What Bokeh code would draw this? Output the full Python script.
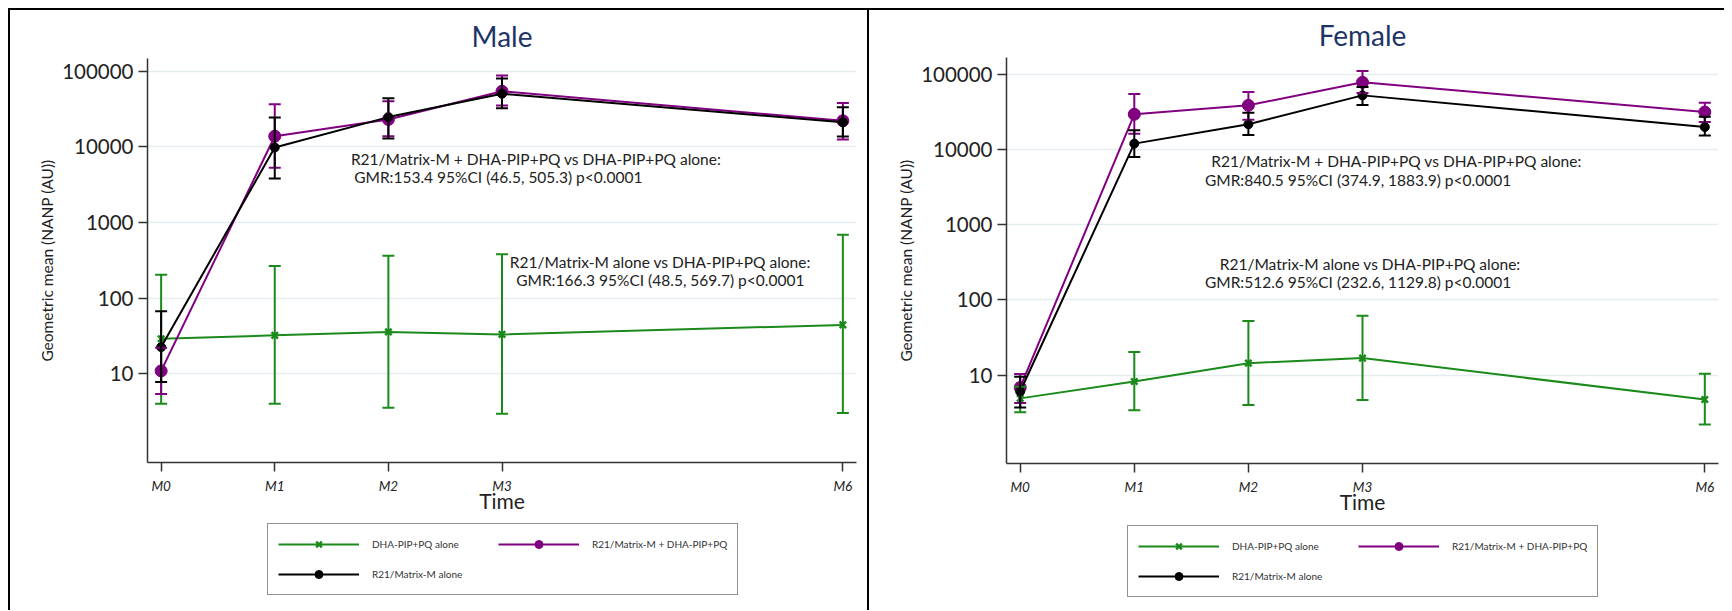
from bokeh.plotting import figure
from bokeh.layouts import row, column
from bokeh.models import (ColumnDataSource, Whisker, TeeHead, Legend, LegendItem,
                          FixedTicker, Range1d, Label, Title)
from bokeh.embed import file_html
from bokeh.resources import INLINE

# ---------------- data ----------------
months = [0, 1, 2, 3, 6]
month_labels = ["M0", "M1", "M2", "M3", "M6"]
y_ticks = [10, 100, 1000, 10000, 100000]
y_tick_labels = ["10", "100", "1000", "10000", "100000"]

series_names = ["DHA-PIP+PQ alone", "R21/Matrix-M + DHA-PIP+PQ", "R21/Matrix-M alone"]

# Male
male_dha_gm = [29.0, 32.2, 35.7, 33.1, 44.2]
male_dha_lo = [4.0, 4.0, 3.55, 2.96, 3.03]
male_dha_hi = [204, 266, 364, 380, 686]
male_combo_gm = [10.9, 13800, 23000, 54300, 22100]
male_combo_lo = [5.4, 5270, 13800, 35100, 12500]
male_combo_hi = [22, 36500, 40100, 87700, 37800]
male_r21_gm = [22.5, 9800, 24700, 50200, 21100]
male_r21_lo = [7.8, 3810, 12900, 32400, 13700]
male_r21_hi = [66.8, 24400, 44000, 80000, 33400]

# Female
female_dha_gm = [4.9, 8.2, 14.4, 16.8, 4.74]
female_dha_lo = [3.2, 3.4, 4.0, 4.66, 2.21]
female_dha_hi = [7.0, 20.2, 52.1, 61.4, 10.4]
female_combo_gm = [6.84, 29200, 38400, 77600, 31300]
female_combo_lo = [4.25, 16100, 24700, 56000, 23100]
female_combo_hi = [10.3, 54200, 57700, 109600, 41600]
female_r21_gm = [6.05, 11900, 21500, 52100, 19800]
female_r21_lo = [3.72, 7900, 15500, 38700, 15300]
female_r21_hi = [9.5, 17900, 30600, 67100, 27100]

male_notes = ["R21/Matrix-M + DHA-PIP+PQ vs DHA-PIP+PQ alone:",
              "GMR:153.4 95%CI (46.5, 505.3) p<0.0001",
              "R21/Matrix-M alone vs DHA-PIP+PQ alone:",
              "GMR:166.3 95%CI (48.5, 569.7) p<0.0001"]
female_notes = ["R21/Matrix-M + DHA-PIP+PQ vs DHA-PIP+PQ alone:",
                "GMR:840.5 95%CI (374.9, 1883.9) p<0.0001",
                "R21/Matrix-M alone vs DHA-PIP+PQ alone:",
                "GMR:512.6 95%CI (232.6, 1129.8) p<0.0001"]

# ---------------- style ----------------
FONT = "Lato"
GREEN = "#1a8a1a"
PURPLE = "#800080"
BLACK = "#000000"
NAVY = "#1c3566"
AXIS = "#333333"
GRID = "#e3ecef"
TXT = "#222222"
COLORS = [GREEN, PURPLE, BLACK]
MARKERS = ["x", "circle", "circle"]
SIZES = [9, 12, 9]


def add_series(p, xs, gm, lo, hi, c, mk, sz, whiskers=True):
    src = ColumnDataSource(dict(x=xs, gm=gm, lo=lo, hi=hi))
    if whiskers:
        w = Whisker(source=src, base="x", lower="lo", upper="hi", dimension="height",
                    line_color=c, line_width=2, level="glyph",
                    upper_head=TeeHead(size=12, line_color=c, line_width=2),
                    lower_head=TeeHead(size=12, line_color=c, line_width=2))
        p.add_layout(w)
    ln = p.line("x", "gm", source=src, line_color=c, line_width=2)
    if mk == "x":
        sc = p.scatter("x", "gm", source=src, marker="x", size=sz, line_color=c, line_width=2.5)
    else:
        sc = p.scatter("x", "gm", source=src, marker="circle", size=sz,
                       fill_color=c, line_color=c)
    return ln, sc


def panel(title, series, notes, note_pos, width, height, borders, y_range):
    p = figure(width=width, height=height, y_axis_type="log",
               x_range=Range1d(-0.12, 6.12), y_range=Range1d(*y_range),
               output_backend="svg", toolbar_location=None,
               min_border_left=borders[0], min_border_right=borders[1],
               min_border_top=borders[2], min_border_bottom=borders[3])
    p.outline_line_color = None
    p.background_fill_color = "white"
    p.border_fill_color = "white"

    p.add_layout(Title(text=title, align="center", text_font=FONT, text_font_size="28px",
                       text_font_style="normal", text_color=NAVY, standoff=11), "above")

    p.xaxis.ticker = FixedTicker(ticks=months)
    p.xaxis.major_label_overrides = {m: l for m, l in zip(months, month_labels)}
    p.xaxis.major_label_text_font = FONT
    p.xaxis.major_label_text_font_style = "italic"
    p.xaxis.major_label_text_font_size = "13.5px"
    p.xaxis.major_label_text_color = TXT
    p.xaxis.major_label_standoff = 6
    p.xaxis.axis_label = "Time"
    p.xaxis.axis_label_text_font = FONT
    p.xaxis.axis_label_text_font_style = "normal"
    p.xaxis.axis_label_text_font_size = "21px"
    p.xaxis.axis_label_text_color = TXT
    p.xaxis.axis_label_standoff = -9

    p.yaxis.ticker = FixedTicker(ticks=y_ticks)
    p.yaxis.major_label_overrides = {t: l for t, l in zip(y_ticks, y_tick_labels)}
    p.yaxis.major_label_text_font = FONT
    p.yaxis.major_label_text_font_size = "20.5px"
    p.yaxis.major_label_text_color = TXT
    p.yaxis.major_label_standoff = 5
    p.yaxis.axis_label = "Geometric mean (NANP (AU))"
    p.yaxis.axis_label_text_font = FONT
    p.yaxis.axis_label_text_font_style = "normal"
    p.yaxis.axis_label_text_font_size = "15.5px"
    p.yaxis.axis_label_text_color = TXT
    p.yaxis.axis_label_standoff = 3

    for ax in (p.xaxis, p.yaxis):
        ax.axis_line_color = AXIS
        ax.axis_line_width = 1.5
        ax.major_tick_line_color = AXIS
        ax.major_tick_line_width = 1.5
        ax.major_tick_out = 9
        ax.major_tick_in = 0
        ax.minor_tick_line_color = None

    p.xgrid.grid_line_color = None
    p.ygrid.ticker = FixedTicker(ticks=y_ticks)
    p.ygrid.grid_line_color = GRID
    p.ygrid.grid_line_width = 1.5

    for (gm, lo, hi), c, mk, sz in zip(series, COLORS, MARKERS, SIZES):
        add_series(p, months, gm, lo, hi, c, mk, sz)

    for txt, (x, y, al) in zip(notes, note_pos):
        p.add_layout(Label(x=x, y=y, text=txt, text_font=FONT, text_font_size="15.5px",
                           text_baseline="middle", text_align=al, text_color=TXT))
    return p


def legend_fig(width, height, loc, borders):
    q = figure(width=width, height=height, x_range=Range1d(0, 1), y_range=Range1d(0, 1),
               output_backend="svg", toolbar_location=None,
               x_axis_location=None, y_axis_location=None,
               min_border_left=borders[0], min_border_right=borders[1],
               min_border_top=0, min_border_bottom=0)
    q.outline_line_color = None
    q.grid.grid_line_color = None
    items = []
    for name, c, mk, sz in zip(series_names, COLORS, MARKERS, SIZES):
        # legend-only renderers: a point placed outside the visible range
        ln, sc = add_series(q, [-5, -4], [-5, -4], [-5, -4], [-5, -4], c, mk, sz, whiskers=False)
        items.append(LegendItem(label=name, renderers=[ln, sc]))
    legend = Legend(items=items, location=loc, orientation="horizontal", ncols=2,
                    glyph_width=81, glyph_height=20, label_standoff=13, label_width=116,
                    spacing=10, padding=10, margin=0,
                    label_text_font=FONT, label_text_font_size="10px", label_text_color="#333333",
                    border_line_color="#222222", border_line_width=1.5,
                    background_fill_alpha=1.0)
    q.add_layout(legend)
    return q


male_series = [(male_dha_gm, male_dha_lo, male_dha_hi),
               (male_combo_gm, male_combo_lo, male_combo_hi),
               (male_r21_gm, male_r21_lo, male_r21_hi)]
female_series = [(female_dha_gm, female_dha_lo, female_dha_hi),
                 (female_combo_gm, female_combo_lo, female_combo_hi),
                 (female_r21_gm, female_r21_lo, female_r21_hi)]

male_pos = [(1.670, 6840, "left"), (1.699, 3955, "left"),
            (4.393, 296.6, "center"), (4.393, 173.4, "center")]
female_pos = [(1.675, 6900, "left"), (1.619, 3935, "left"),
              (1.749, 298.5, "left"), (1.619, 170, "left")]

p1 = panel("Male", male_series, male_notes, male_pos, 857, 512, (137, 11, 48, 60),
           (0.671, 147000))
p2 = panel("Female", female_series, female_notes, female_pos, 855, 512, (137, 6, 47, 59),
           (0.668, 166000))
l1 = legend_fig(857, 88, (120, 15), (137, 11))
l2 = legend_fig(855, 88, (121, 13), (137, 6))

left = column(p1, l1, spacing=0,
              styles={"border-left": "2px solid #000", "border-top": "2px solid #000",
                      "border-right": "2px solid #000"})
right = column(p2, l2, spacing=0, styles={"border-top": "2px solid #000"})

layout = row(left, right, spacing=0, margin=(8, 0, 0, 8))
open("out.html", "w").write(file_html(layout, INLINE))
